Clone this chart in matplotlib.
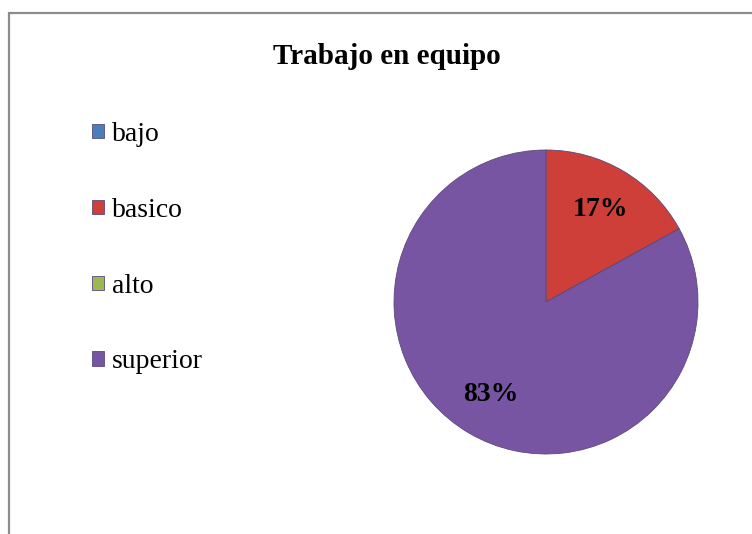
import matplotlib
matplotlib.use("Agg")
import matplotlib.pyplot as plt
from matplotlib.patches import Rectangle

categories = ["bajo", "basico", "alto", "superior"]
values = [0, 17, 0, 83]
colors = ["#4A7EBB", "#CD3F38", "#98B954", "#7755A3"]
title = "Trabajo en equipo"

plt.rcParams["font.family"] = ["Liberation Serif", "DejaVu Serif"]

W, H = 752, 534
fig = plt.figure(figsize=(W / 100, H / 100), dpi=100)
fig.patch.set_facecolor("white")

# outer frame (top and left visible)
fig.patches.append(Rectangle((9 / W, -0.1), 1.2, 1 - 13 / H + 0.1,
                             transform=fig.transFigure, fill=False,
                             edgecolor="#8c8c8c", linewidth=1.6))

cx, cy, r = 546, 302, 152
ax = fig.add_axes([(cx - r) / W, (H - cy - r) / H, 2 * r / W, 2 * r / H])


def fmt(p):
    return f"{p:.0f}%" if p > 0.5 else ""


wedges, texts, autotexts = ax.pie(
    values, colors=colors, startangle=90, counterclock=False,
    autopct=fmt, pctdistance=0.71, radius=1,
    wedgeprops=dict(edgecolor="#5a4a7a", linewidth=0.6),
    textprops=dict(fontsize=20, fontweight="bold", color="black"))
ax.set_xlim(-1.0, 1.0)
ax.set_ylim(-1.0, 1.0)
ax.set_aspect("auto")
ax.axis("off")

fig.text(387 / W, 1 - 57 / H, title, ha="center", va="center",
         fontsize=21, fontweight="bold")

leg = fig.legend(wedges, categories, loc="upper left",
                 bbox_to_anchor=(92 / W, 1 - 122 / H), frameon=False,
                 fontsize=20, handlelength=0.42, handleheight=0.42,
                 handletextpad=0.3, labelspacing=1.83, borderpad=0,
                 borderaxespad=0)

fig.savefig("out.png", dpi=100)
